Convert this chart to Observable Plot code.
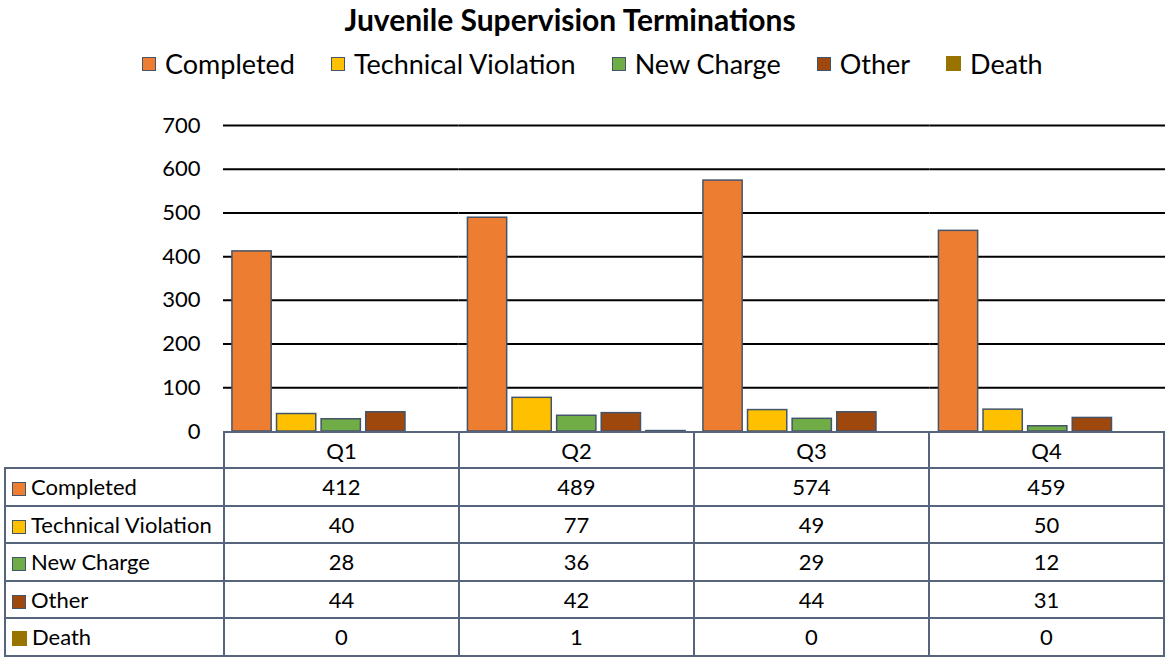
<!DOCTYPE html>
<html><head><meta charset="utf-8">
<script src="https://cdn.jsdelivr.net/npm/d3@7"></script>
<script src="https://cdn.jsdelivr.net/npm/@observablehq/plot@0.6"></script>
<style>
body{margin:0;background:#fff;font-family:Lato,"Noto Sans",sans-serif;color:#000;}
#wrap{position:relative;width:1165px;height:661px;overflow:hidden;}
#title{position:absolute;top:1px;left:0;width:1140px;text-align:center;font-weight:bold;font-size:30px;}
#legend{position:absolute;top:47px;left:142px;display:flex;gap:36px;font-size:27px;align-items:center;white-space:nowrap;}
#legend .it{display:flex;align-items:center;gap:9px;}
.sw{display:inline-block;width:12px;height:12px;border:1.5px solid #44546A;}
.sw.noborder{border:none;width:15px;height:15px;}
#chart{position:absolute;top:0;left:0;}
table{position:absolute;top:431px;left:4px;border-collapse:collapse;font-size:22px;table-layout:fixed;}
td{border:2px solid #56657c;text-align:center;padding:0;}
tr{height:37.5px;}
tr.head{height:36px;}
td.lab{text-align:left;padding-left:6px;white-space:nowrap;}
td.lab .sw{margin-right:5px;vertical-align:-1px;}
td.blank{border:none;border-right:2px solid #56657c;}
</style></head>
<body><div id="wrap">
<div id="title">Juvenile Supervision Terminations</div>
<div id="legend"></div>
<div id="chart"></div>
</div>
<script>
const quarters = ["Q1","Q2","Q3","Q4"];
const series = ["Completed","Technical Violation","New Charge","Other","Death"];
const colors = ["#ED7D31","#FFC000","#70AD47","#9E480E","#997300"];
const completed = [412,489,574,459];
const technicalViolation = [40,77,49,50];
const newCharge = [28,36,29,12];
const other = [44,42,44,31];
const death = [0,1,0,0];
const yTicks = [0,100,200,300,400,500,600,700];

const values = [completed, technicalViolation, newCharge, other, death];
const data = [];
quarters.forEach((q,i)=>series.forEach((s,j)=>data.push({quarter:q, series:s, value:values[j][i]})));

const swatch = (j)=> `<span class="sw${series[j]==="Death"?" noborder":""}" style="background:${colors[j]}"></span>`;

d3.select("#legend").selectAll("div").data(series).join("div").attr("class","it")
  .html((s,j)=> swatch(j) + `<span>${s}</span>`);

const chart = Plot.plot({
  width:1165, height:661,
  marginLeft:223, marginRight:0, marginTop:125, marginBottom:230,
  style:{fontFamily:"Lato, sans-serif", background:"transparent"},
  fx:{domain:quarters, padding:0, axis:null, round:false},
  x:{domain:series, paddingInner:0.12, paddingOuter:0.2, axis:null, round:false},
  y:{domain:[0,700], axis:null},
  color:{domain:series, range:colors},
  marks:[
    Plot.ruleY(yTicks.filter(d=>d>0), {stroke:"#000", strokeWidth:2}),
    Plot.barY(data, {fx:"quarter", x:"series", y:"value", fill:"series", stroke:"#44546A", strokeWidth:1.5}),
    Plot.axisY({ticks:yTicks, tickSize:0, tickPadding:23, fontSize:22, label:null})
  ]
});
document.getElementById("chart").appendChild(chart);

const table = d3.select("#wrap").append("table");
const cg = table.append("colgroup");
cg.append("col").style("width","219px");
quarters.forEach(()=>cg.append("col").style("width","235.5px"));
const head = table.append("tr").attr("class","head");
head.append("td").attr("class","blank");
quarters.forEach(q=>head.append("td").text(q));
series.forEach((s,j)=>{
  const tr = table.append("tr");
  tr.append("td").attr("class","lab").html(swatch(j) + s);
  values[j].forEach(v=>tr.append("td").text(v));
});
</script>
</body></html>
